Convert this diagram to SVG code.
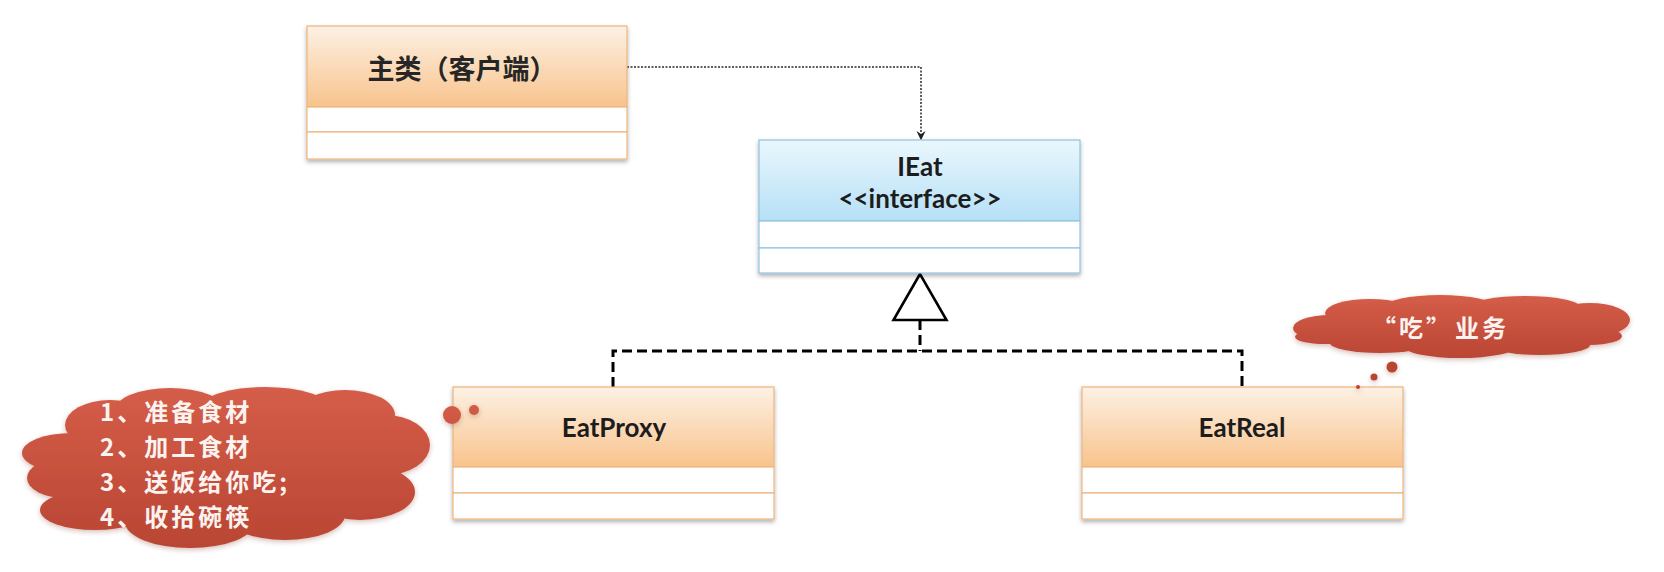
<svg xmlns="http://www.w3.org/2000/svg" width="1664" height="572" viewBox="0 0 1664 572">
  <style>
    .hdr { stroke: #efb47c; stroke-width: 1.2; }
    .row { fill: #ffffff; stroke: #efb47c; stroke-width: 1.2; }
    .ihdr { stroke: #8fc3df; stroke-width: 1.2; }
    .irow { fill: #ffffff; stroke: #8fc3df; stroke-width: 1.2; }
    .cls { font-family: Lato, "Liberation Sans", "Noto Sans CJK SC", sans-serif; font-weight: bold; font-size: 26px; fill: #1c1c1c; text-anchor: middle; }
    .cjk { font-family: "Noto Sans CJK SC", sans-serif; font-weight: bold; font-size: 27px; fill: #262626; text-anchor: middle; }
    .ctext { font-family: "Noto Sans CJK SC", sans-serif; font-weight: bold; font-size: 24px; letter-spacing: 3px; fill: #fbf3f0; }
    .gen { fill: none; stroke: #000000; stroke-width: 3; stroke-dasharray: 10 5; }
    .dep { fill: none; stroke: #2a2a2a; stroke-width: 1.5; stroke-dasharray: 2 1.5; }
  </style>
  <defs>
    <linearGradient id="orange" x1="0" y1="0" x2="0" y2="1">
      <stop offset="0" stop-color="#fdf1e4"/>
      <stop offset="1" stop-color="#f8c38c"/>
    </linearGradient>
    <linearGradient id="blue" x1="0" y1="0" x2="0" y2="1">
      <stop offset="0" stop-color="#eaf7fd"/>
      <stop offset="1" stop-color="#b5e0f6"/>
    </linearGradient>
    <linearGradient id="cloudL" gradientUnits="userSpaceOnUse" x1="0" y1="385" x2="0" y2="550">
      <stop offset="0" stop-color="#d55e49"/>
      <stop offset="1" stop-color="#b94533"/>
    </linearGradient>
    <linearGradient id="cloudR" gradientUnits="userSpaceOnUse" x1="0" y1="294" x2="0" y2="360">
      <stop offset="0" stop-color="#d55e49"/>
      <stop offset="1" stop-color="#b94533"/>
    </linearGradient>
    <filter id="shadow" x="-5%" y="-10%" width="110%" height="125%">
      <feDropShadow dx="0" dy="2.5" stdDeviation="2" flood-color="#000000" flood-opacity="0.3"/>
    </filter>
    <filter id="cshadow" x="-5%" y="-10%" width="110%" height="125%">
      <feDropShadow dx="0" dy="2" stdDeviation="2.5" flood-color="#7a2a1e" flood-opacity="0.3"/>
    </filter>
  </defs>

  <rect x="0" y="0" width="1664" height="572" fill="#ffffff"/>

  <g id="connectors">
    <path class="dep" d="M627,67 H921 V132"/>
    <path d="M916.5,131 L921,140.5 L925.5,131 L921,134 Z" fill="#222222"/>
    <path class="gen" d="M920,320 V351"/>
    <path class="gen" d="M613,387 V351 H1242 V387"/>
    <polygon points="920,274 893.5,320 946.5,320" fill="#ffffff" stroke="#000000" stroke-width="2.6" stroke-linejoin="miter"/>
  </g>

  <g id="main-class" filter="url(#shadow)">
    <rect class="hdr" x="307" y="26" width="320" height="81" fill="url(#orange)"/>
    <rect class="row" x="307" y="107" width="320" height="25"/>
    <rect class="row" x="307" y="132" width="320" height="27"/>
  </g>
  <text class="cjk" x="462" y="79">主类（客户端）</text>

  <g id="ieat" filter="url(#shadow)">
    <rect class="ihdr" x="759" y="140" width="321" height="81" fill="url(#blue)"/>
    <rect class="irow" x="759" y="221" width="321" height="27"/>
    <rect class="irow" x="759" y="248" width="321" height="25"/>
  </g>
  <text class="cls" x="920" y="176">IEat</text>
  <text class="cls" x="920" y="208">&lt;&lt;interface&gt;&gt;</text>

  <g id="eatproxy" filter="url(#shadow)">
    <rect class="hdr" x="453" y="387" width="321" height="80" fill="url(#orange)"/>
    <rect class="row" x="453" y="467" width="321" height="26"/>
    <rect class="row" x="453" y="493" width="321" height="26"/>
  </g>
  <text class="cls" x="614" y="437">EatProxy</text>

  <g id="eatreal" filter="url(#shadow)">
    <rect class="hdr" x="1082" y="387" width="321" height="80" fill="url(#orange)"/>
    <rect class="row" x="1082" y="467" width="321" height="26"/>
    <rect class="row" x="1082" y="493" width="321" height="26"/>
  </g>
  <text class="cls" x="1242" y="437">EatReal</text>

  <g id="cloud-proxy">
    <g fill="url(#cloudL)" filter="url(#cshadow)">
      <ellipse cx="228" cy="465" rx="175" ry="58"/>
      <ellipse cx="110" cy="425" rx="45" ry="25"/>
      <ellipse cx="170" cy="410" rx="55" ry="22"/>
      <ellipse cx="265" cy="408" rx="65" ry="21"/>
      <ellipse cx="345" cy="415" rx="50" ry="25"/>
      <ellipse cx="385" cy="445" rx="45" ry="30"/>
      <ellipse cx="360" cy="492" rx="55" ry="28"/>
      <ellipse cx="285" cy="515" rx="60" ry="25"/>
      <ellipse cx="190" cy="522" rx="65" ry="26"/>
      <ellipse cx="95" cy="510" rx="55" ry="20"/>
      <ellipse cx="65" cy="478" rx="38" ry="20"/>
      <ellipse cx="72" cy="453" rx="50" ry="20"/>
      <circle cx="452" cy="415" r="9"/>
      <circle cx="474" cy="410" r="5"/>
    </g>
    <text class="ctext" x="100" y="421">1、准备食材</text>
    <text class="ctext" x="100" y="456">2、加工食材</text>
    <text class="ctext" x="100" y="491">3、送饭给你吃;</text>
    <text class="ctext" x="100" y="526">4、收拾碗筷</text>
  </g>

  <g id="cloud-real">
    <g fill="url(#cloudR)" filter="url(#cshadow)">
      <ellipse cx="1460" cy="327" rx="150" ry="22"/>
      <ellipse cx="1330" cy="328" rx="37" ry="13"/>
      <ellipse cx="1370" cy="313" rx="45" ry="14"/>
      <ellipse cx="1440" cy="307" rx="55" ry="12"/>
      <ellipse cx="1525" cy="307" rx="55" ry="11"/>
      <ellipse cx="1590" cy="320" rx="40" ry="17"/>
      <ellipse cx="1590" cy="336" rx="32" ry="9"/>
      <ellipse cx="1540" cy="345" rx="50" ry="10"/>
      <ellipse cx="1460" cy="347" rx="55" ry="11"/>
      <ellipse cx="1380" cy="343" rx="50" ry="10"/>
      <ellipse cx="1325" cy="337" rx="30" ry="7"/>
      <circle cx="1392" cy="367" r="5.5"/>
      <circle cx="1374" cy="377" r="3.5"/>
      <circle cx="1358" cy="387" r="2"/>
    </g>
    <text class="ctext" x="1372" y="337" font-size="26" letter-spacing="3">“吃”<tspan dx="2">业务</tspan></text>
  </g>
</svg>
